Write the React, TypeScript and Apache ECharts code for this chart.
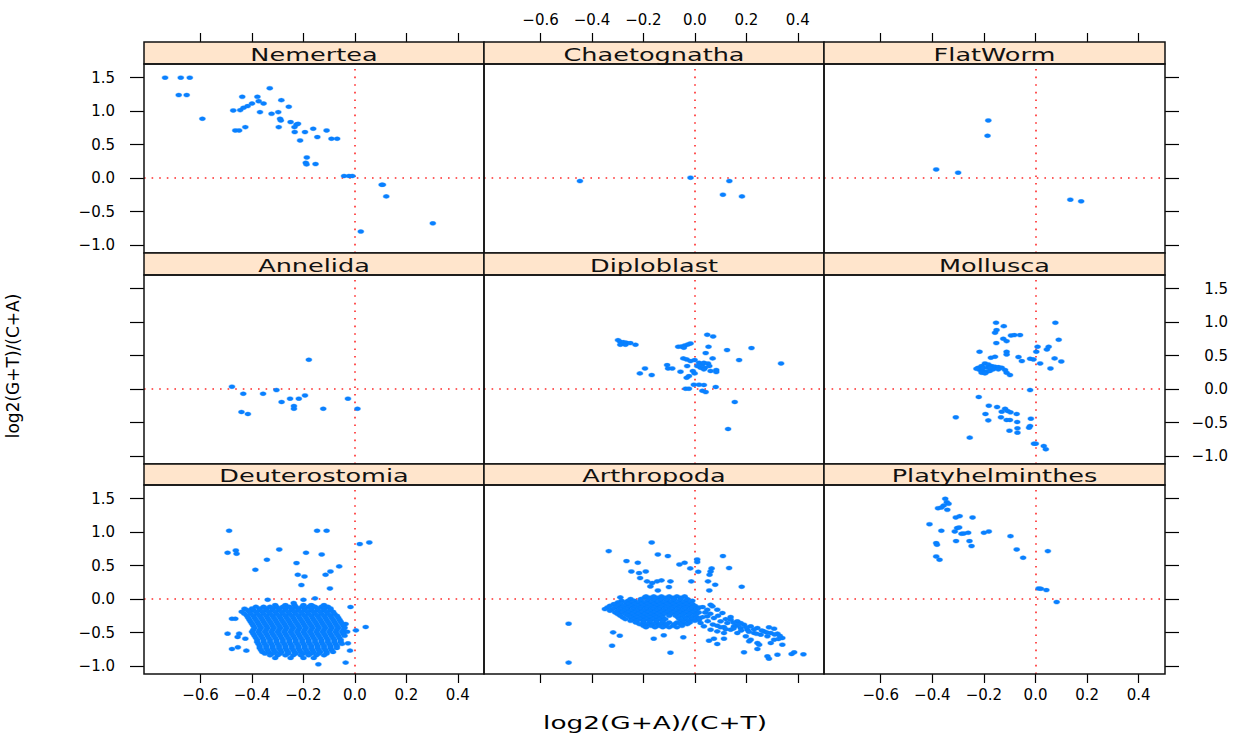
import React, { useEffect, useRef } from "react";
import * as echarts from "echarts";

const panelNames = [
  "Nemertea", "Chaetognatha", "FlatWorm",
  "Annelida", "Diploblast", "Mollusca",
  "Deuterostomia", "Arthropoda", "Platyhelminthes",
];
const xTicks = [-0.6, -0.4, -0.2, 0, 0.2, 0.4];
const yTicks = [-1, -0.5, 0, 0.5, 1, 1.5];
const xTitle = "log2(G+A)/(C+T)";
const yTitle = "log2(G+T)/(C+A)";

const nemertea = [
  [-0.738, 1.5], [-0.677, 1.5], [-0.642, 1.5], [-0.685, 1.24], [-0.654, 1.24], [-0.593, 0.886],
  [-0.438, 1.214], [-0.379, 1.214], [-0.331, 1.343], [-0.286, 1.164], [-0.257, 1.065], [-0.473, 1.01],
  [-0.446, 1.015], [-0.433, 1.05], [-0.417, 1.075], [-0.4, 1.114], [-0.374, 1.149], [-0.355, 1.114],
  [-0.369, 0.985], [-0.324, 0.96], [-0.298, 0.985], [-0.291, 0.886], [-0.288, 0.861], [-0.25, 0.836],
  [-0.227, 0.8], [-0.221, 0.81], [-0.235, 0.761], [-0.296, 0.761], [-0.465, 0.711], [-0.45, 0.711],
  [-0.426, 0.761], [-0.234, 0.687], [-0.194, 0.687], [-0.162, 0.736], [-0.11, 0.711], [-0.146, 0.612],
  [-0.213, 0.562], [-0.091, 0.587], [-0.069, 0.587], [-0.187, 0.308], [-0.191, 0.229], [-0.188, 0.204],
  [-0.153, 0.209], [-0.042, 0.03], [-0.023, 0.03], [-0.01, 0.03], [0.104, -0.1], [0.109, -0.1],
  [0.122, -0.274], [0.303, -0.677], [0.023, -0.8],
];
const chaetognatha = [
  [-0.447, -0.045], [-0.017, 0.005], [0.134, -0.045], [0.109, -0.249], [0.183, -0.274],
];
const flatWorm = [
  [-0.385, 0.129], [-0.3, 0.08], [-0.183, 0.861], [-0.186, 0.632], [0.135, -0.323], [0.177, -0.348],
];
const annelida = [
  [-0.478, 0.035], [-0.434, -0.07], [-0.357, -0.07], [-0.305, -0.015], [-0.179, 0.438], [-0.285, -0.194],
  [-0.252, -0.144], [-0.218, -0.144], [-0.194, -0.095], [-0.237, -0.254], [-0.237, -0.294], [-0.123, -0.294],
  [-0.027, -0.144], [0.01, -0.294], [-0.441, -0.343], [-0.416, -0.373],
];
const diploblast = [
  [-0.299, 0.731], [-0.29, 0.706], [-0.277, 0.701], [-0.266, 0.692], [-0.251, 0.687], [-0.231, 0.662],
  [-0.29, 0.662], [-0.27, 0.662], [-0.194, 0.308], [-0.214, 0.234], [-0.168, 0.209], [-0.108, 0.358],
  [-0.104, 0.308], [-0.088, 0.308], [-0.056, 0.259], [-0.065, 0.632], [-0.052, 0.637], [-0.039, 0.652],
  [-0.027, 0.667], [-0.017, 0.682], [-0.043, 0.617], [0.048, 0.811], [0.071, 0.786], [0.053, 0.632],
  [0.042, 0.537], [0.125, 0.582], [0.22, 0.612], [0.172, 0.433], [0.335, 0.383], [-0.045, 0.458],
  [-0.032, 0.443], [-0.017, 0.418], [-0.001, 0.433], [0.016, 0.393], [0.029, 0.368], [0.035, 0.393],
  [0.051, 0.383], [0.039, 0.318], [0.022, 0.318], [0.009, 0.343], [0.069, 0.458], [0.056, 0.343],
  [-0.03, 0.343], [-0.008, 0.269], [0.035, 0.294], [0.061, 0.269], [0.083, 0.284], [0.083, 0.254],
  [-0.001, 0.234], [-0.023, 0.194], [-0.032, 0.169], [-0.004, 0.065], [0.016, 0.065], [0.035, 0.06],
  [-0.036, 0.005], [-0.023, 0.005], [0.029, -0.025], [0.042, -0.045], [0.081, 0.03], [0.155, -0.194],
  [0.129, -0.597],
];
const mollusca = [
  [-0.153, 0.99], [-0.123, 0.94], [-0.151, 0.881], [-0.157, 0.841], [-0.125, 0.751], [-0.112, 0.716],
  [-0.152, 0.687], [-0.095, 0.801], [-0.082, 0.806], [-0.06, 0.806], [-0.217, 0.557], [-0.112, 0.557],
  [-0.112, 0.517], [-0.173, 0.468], [-0.157, 0.483], [-0.066, 0.478], [-0.053, 0.418], [-0.021, 0.453],
  [-0.008, 0.443], [0.018, 0.383], [0.008, 0.632], [0.003, 0.557], [0.044, 0.592], [0.051, 0.632],
  [0.077, 0.99], [0.09, 0.736], [0.074, 0.458], [0.1, 0.413], [0.058, 0.308],
  [-0.222, 0.318], [-0.209, 0.343], [-0.196, 0.383], [-0.183, 0.368], [-0.17, 0.343], [-0.157, 0.333],
  [-0.144, 0.328], [-0.216, 0.284], [-0.203, 0.269], [-0.19, 0.254], [-0.177, 0.269], [-0.164, 0.294],
  [-0.203, 0.318], [-0.186, 0.318], [-0.229, 0.303], [-0.209, 0.244], [-0.196, 0.234], [-0.177, 0.318],
  [-0.118, 0.284], [-0.112, 0.244], [-0.099, 0.209], [-0.131, 0.318], [-0.144, 0.294],
  [-0.021, -0.015], [-0.22, -0.119], [-0.181, -0.249], [-0.149, -0.269], [-0.118, -0.294], [-0.108, -0.328],
  [-0.131, -0.338], [-0.073, -0.373], [-0.097, -0.348], [-0.194, -0.373], [-0.309, -0.423], [-0.134, -0.423],
  [-0.112, -0.463], [-0.099, -0.463], [-0.183, -0.468], [-0.071, -0.493], [-0.018, -0.443], [-0.021, -0.552],
  [-0.025, -0.577], [-0.07, -0.587], [-0.07, -0.652], [-0.101, -0.622], [-0.255, -0.726], [-0.006, -0.816],
  [0.001, -0.816], [0.032, -0.851], [0.04, -0.9],
];
const deuterostomiaScatter = [
  [-0.489, 1.02], [-0.147, 1.02], [-0.11, 1.02], [0.019, 0.821], [0.056, 0.846], [-0.495, 0.692],
  [-0.463, 0.726], [-0.46, 0.677], [-0.294, 0.741], [-0.19, 0.692], [-0.129, 0.667], [-0.342, 0.587],
  [-0.227, 0.537], [-0.387, 0.438], [-0.061, 0.488], [-0.095, 0.413], [-0.114, 0.363], [-0.222, 0.363],
  [-0.196, 0.338], [-0.208, 0.209], [-0.097, 0.159], [-0.339, -0.01], [-0.2, -0.01], [-0.155, 0.01],
  [-0.017, -0.119], [0.042, -0.418], [0.004, -0.468], [-0.036, -0.95], [-0.142, -0.975], [-0.478, -0.294],
  [-0.465, -0.294], [-0.495, -0.517], [-0.45, -0.517], [-0.456, -0.567], [-0.426, -0.592], [-0.478, -0.746],
  [-0.455, -0.721], [-0.422, -0.771], [-0.429, -0.144], [-0.036, -0.373], [-0.027, -0.662], [-0.019, -0.771],
  [-0.238, -0.06], [-0.166, -0.1],
];
const deuterostomiaRowY = [
  -0.09, -0.115, -0.14, -0.165, -0.19, -0.22, -0.25, -0.28, -0.31, -0.34, -0.37, -0.4, -0.43, -0.46,
  -0.49, -0.52, -0.55, -0.58, -0.61, -0.64, -0.67, -0.7, -0.73, -0.76, -0.79, -0.815, -0.84, -0.88,
];
const deuterostomiaRowX = [
  [-0.31, -0.27, -0.235, -0.2, -0.17, -0.12],
  [-0.385, -0.355, -0.33, -0.305, -0.28, -0.255, -0.23, -0.205, -0.18, -0.155, -0.13, -0.105],
  [-0.4, -0.37, -0.345, -0.32, -0.295, -0.27, -0.245, -0.22, -0.195, -0.17, -0.145, -0.12, -0.095],
  [-0.42, -0.395, -0.37, -0.345, -0.32, -0.295, -0.27, -0.245, -0.22, -0.195, -0.17, -0.145, -0.12, -0.095],
  [-0.44, -0.41, -0.385, -0.36, -0.335, -0.31, -0.285, -0.26, -0.235, -0.21, -0.185, -0.16, -0.135, -0.11, -0.085],
  [-0.43, -0.405, -0.38, -0.355, -0.33, -0.305, -0.28, -0.255, -0.23, -0.205, -0.18, -0.155, -0.13, -0.105, -0.08],
  [-0.42, -0.395, -0.37, -0.345, -0.32, -0.295, -0.27, -0.245, -0.22, -0.195, -0.17, -0.145, -0.12, -0.095, -0.07],
  [-0.415, -0.39, -0.365, -0.34, -0.315, -0.29, -0.265, -0.24, -0.215, -0.19, -0.165, -0.14, -0.115, -0.09, -0.065],
  [-0.41, -0.385, -0.36, -0.335, -0.31, -0.285, -0.26, -0.235, -0.21, -0.185, -0.16, -0.135, -0.11, -0.085, -0.06],
  [-0.405, -0.38, -0.355, -0.33, -0.305, -0.28, -0.255, -0.23, -0.205, -0.18, -0.155, -0.13, -0.105, -0.08, -0.055],
  [-0.4, -0.375, -0.35, -0.325, -0.3, -0.275, -0.25, -0.225, -0.2, -0.175, -0.15, -0.125, -0.1, -0.075, -0.05],
  [-0.395, -0.37, -0.345, -0.32, -0.295, -0.27, -0.245, -0.22, -0.195, -0.17, -0.145, -0.12, -0.095, -0.07, -0.045],
  [-0.39, -0.365, -0.34, -0.315, -0.29, -0.265, -0.24, -0.215, -0.19, -0.165, -0.14, -0.115, -0.09, -0.065, -0.04],
  [-0.395, -0.37, -0.345, -0.32, -0.295, -0.27, -0.245, -0.22, -0.195, -0.17, -0.145, -0.12, -0.095, -0.07, -0.045],
  [-0.4, -0.375, -0.35, -0.325, -0.3, -0.275, -0.25, -0.225, -0.2, -0.175, -0.15, -0.125, -0.1, -0.075, -0.05, -0.03],
  [-0.395, -0.37, -0.345, -0.32, -0.295, -0.27, -0.245, -0.22, -0.195, -0.17, -0.145, -0.12, -0.095, -0.07, -0.045],
  [-0.39, -0.365, -0.34, -0.315, -0.29, -0.265, -0.24, -0.215, -0.19, -0.165, -0.14, -0.115, -0.09, -0.065, -0.04],
  [-0.385, -0.36, -0.335, -0.31, -0.285, -0.26, -0.235, -0.21, -0.185, -0.16, -0.135, -0.11, -0.085, -0.06],
  [-0.38, -0.355, -0.33, -0.305, -0.28, -0.255, -0.23, -0.205, -0.18, -0.155, -0.13, -0.105, -0.08, -0.055],
  [-0.38, -0.355, -0.33, -0.305, -0.28, -0.255, -0.23, -0.205, -0.18, -0.155, -0.13, -0.105, -0.08, -0.055],
  [-0.375, -0.35, -0.325, -0.3, -0.275, -0.25, -0.225, -0.2, -0.175, -0.15, -0.125, -0.1, -0.075, -0.05],
  [-0.37, -0.345, -0.32, -0.295, -0.27, -0.245, -0.22, -0.195, -0.17, -0.145, -0.12, -0.095, -0.07],
  [-0.37, -0.345, -0.32, -0.295, -0.27, -0.245, -0.22, -0.195, -0.17, -0.145, -0.12, -0.095, -0.07],
  [-0.365, -0.34, -0.315, -0.29, -0.265, -0.24, -0.215, -0.19, -0.165, -0.14, -0.115, -0.09],
  [-0.36, -0.335, -0.31, -0.285, -0.26, -0.235, -0.21, -0.185, -0.16, -0.135, -0.11, -0.085],
  [-0.35, -0.32, -0.29, -0.26, -0.23, -0.2, -0.17, -0.14, -0.11],
  [-0.33, -0.3, -0.27, -0.24, -0.21, -0.18, -0.15, -0.12],
  [-0.31, -0.25, -0.2, -0.16],
];
const arthropodaScatter = [
  [-0.168, 0.846], [-0.335, 0.716], [-0.144, 0.667], [-0.105, 0.642], [0.109, 0.642], [-0.266, 0.567],
  [-0.222, 0.542], [-0.06, 0.517], [-0.04, 0.542], [0.009, 0.592], [0.009, 0.552], [-0.018, 0.458],
  [0.013, 0.408], [0.133, 0.463], [0.065, 0.458], [0.061, 0.413], [0.057, 0.363], [-0.247, 0.413],
  [-0.217, 0.388], [-0.191, 0.413], [-0.213, 0.313], [-0.186, 0.264], [-0.166, 0.239], [-0.147, 0.264],
  [-0.13, 0.279], [-0.095, 0.264], [-0.014, 0.264], [0.051, 0.264], [0.079, 0.214], [0.056, 0.129],
  [-0.173, 0.189], [-0.144, 0.129], [-0.101, 0.179], [0.182, 0.184], [-0.29, 0.025], [-0.195, 0.025],
  [-0.491, -0.368], [-0.491, -0.95], [-0.318, -0.498], [-0.292, -0.547], [-0.322, -0.697], [-0.095, -0.801],
  [-0.16, -0.592], [-0.121, -0.542], [-0.045, -0.572],
  [0.061, -0.085], [0.087, -0.159], [0.107, -0.209], [0.139, -0.269], [0.165, -0.333], [0.191, -0.383],
  [0.217, -0.408], [0.243, -0.433], [0.269, -0.483], [0.295, -0.507], [0.321, -0.517], [0.34, -0.582],
  [0.308, -0.607], [0.282, -0.557], [0.256, -0.532], [0.23, -0.507], [0.204, -0.458], [0.178, -0.433],
  [0.152, -0.408], [0.126, -0.358], [0.1, -0.333], [0.074, -0.284], [0.048, -0.259], [0.035, -0.408],
  [0.061, -0.458], [0.087, -0.483], [0.113, -0.507], [0.139, -0.458], [0.165, -0.507], [0.198, -0.557],
  [0.217, -0.607], [0.243, -0.657], [0.211, -0.632], [0.055, -0.622], [0.087, -0.672], [0.113, -0.592],
  [0.074, -0.592], [0.288, -0.891], [0.282, -0.856], [0.321, -0.831], [0.376, -0.821], [0.386, -0.796],
  [0.422, -0.826], [0.191, -0.796], [0.243, -0.746], [0.25, -0.682], [0.295, -0.657], [0.34, -0.682],
  [0.325, -0.597], [0.308, -0.443], [0.288, -0.423], [0.048, -0.159], [0.068, -0.109], [0.161, -0.398],
  [0.016, -0.308], [0.022, -0.358], [0.087, -0.398], [0.113, -0.418], [0.139, -0.308], [0.178, -0.358],
  [0.03, -0.12], [0.04, -0.2], [0.06, -0.22], [0.09, -0.25], [0.12, -0.3], [0.15, -0.35],
  [0.17, -0.38], [0.2, -0.42], [0.23, -0.45], [0.26, -0.47], [0.28, -0.5], [0.31, -0.53],
  [0.33, -0.55], [0.24, -0.52], [0.21, -0.49], [0.18, -0.47], [0.15, -0.44], [0.12, -0.45],
  [0.1, -0.42], [0.07, -0.38], [0.05, -0.33], [0.03, -0.27],
];
const arthropodaRowY = [
  0.04, 0.02, 0.0, -0.025, -0.05, -0.075, -0.1, -0.125, -0.15, -0.175,
  -0.2, -0.225, -0.25, -0.275, -0.3, -0.325, -0.35, -0.375, -0.4, -0.42,
];
const arthropodaRowX = [
  [-0.19, -0.16, -0.13, -0.1, -0.07, -0.04],
  [-0.175, -0.145, -0.115, -0.085, -0.055],
  [-0.25, -0.21, -0.18, -0.155, -0.13, -0.105, -0.08, -0.055, -0.03],
  [-0.285, -0.26, -0.235, -0.21, -0.185, -0.16, -0.135, -0.11, -0.085, -0.06, -0.035, -0.01],
  [-0.3, -0.27, -0.245, -0.22, -0.195, -0.17, -0.145, -0.12, -0.095, -0.07, -0.045, -0.02],
  [-0.315, -0.29, -0.26, -0.235, -0.21, -0.185, -0.16, -0.135, -0.11, -0.085, -0.06, -0.035, -0.01],
  [-0.33, -0.3, -0.275, -0.25, -0.225, -0.2, -0.175, -0.15, -0.125, -0.1, -0.075, -0.05, -0.025, 0.0],
  [-0.34, -0.31, -0.285, -0.26, -0.235, -0.21, -0.185, -0.16, -0.135, -0.11, -0.085, -0.06, -0.035, -0.01, 0.015],
  [-0.35, -0.32, -0.29, -0.265, -0.24, -0.215, -0.19, -0.165, -0.14, -0.115, -0.09, -0.065, -0.04, -0.015, 0.01],
  [-0.33, -0.3, -0.275, -0.25, -0.225, -0.2, -0.175, -0.15, -0.125, -0.1, -0.075, -0.05, -0.025, 0.0],
  [-0.31, -0.285, -0.26, -0.235, -0.21, -0.185, -0.16, -0.135, -0.11, -0.085, -0.06, -0.035, -0.01, 0.015],
  [-0.3, -0.27, -0.245, -0.22, -0.195, -0.17, -0.145, -0.12, -0.095, -0.07, -0.045, -0.02, 0.005],
  [-0.29, -0.26, -0.235, -0.21, -0.185, -0.16, -0.135, -0.1, -0.075, -0.05, -0.025, 0.0],
  [-0.28, -0.25, -0.225, -0.2, -0.175, -0.15, -0.125, -0.065, -0.04, -0.015, 0.01],
  [-0.27, -0.24, -0.215, -0.19, -0.165, -0.14, -0.115, -0.06, -0.035, -0.01, 0.015],
  [-0.25, -0.225, -0.2, -0.175, -0.15, -0.125, -0.05, -0.025, 0.0],
  [-0.23, -0.2, -0.175, -0.15, -0.125, -0.1, -0.07, -0.045, -0.02],
  [-0.215, -0.185, -0.16, -0.135, -0.11, -0.08, -0.055, -0.03],
  [-0.2, -0.17, -0.14, -0.115, -0.085, -0.05],
  [-0.19, -0.155, -0.125, -0.1, -0.07],
];
const platyhelminthes = [
  [-0.35, 1.498], [-0.344, 1.448], [-0.337, 1.423], [-0.356, 1.398], [-0.378, 1.358], [-0.365, 1.368],
  [-0.342, 1.333], [-0.411, 1.119], [-0.365, 1.02], [-0.309, 1.219], [-0.294, 1.239], [-0.244, 1.219],
  [-0.304, 1.06], [-0.296, 1.07], [-0.313, 1.01], [-0.287, 0.975], [-0.278, 0.98], [-0.261, 0.99],
  [-0.2, 0.99], [-0.181, 1.01], [-0.385, 0.836], [-0.382, 0.811], [-0.308, 0.866], [-0.256, 0.866],
  [-0.248, 0.791], [-0.097, 0.94], [-0.073, 0.741], [-0.048, 0.617], [0.048, 0.716], [-0.385, 0.637],
  [-0.372, 0.587], [0.012, 0.159], [0.021, 0.154], [0.042, 0.134], [0.082, -0.045],
];

const expandRows = (ys: number[], xs: number[][]) =>
  ys.flatMap((y, i) => xs[i].map((x) => [x, y]));

const panelData = [
  nemertea, chaetognatha, flatWorm,
  annelida, diploblast, mollusca,
  deuterostomiaScatter.concat(expandRows(deuterostomiaRowY, deuterostomiaRowX)),
  arthropodaScatter.concat(expandRows(arthropodaRowY, arthropodaRowX)),
  platyhelminthes,
];

const X_MIN = -0.82, X_MAX = 0.502, Y_MIN = -1.12, Y_MAX = 1.704;
const colLeft = [144, 484, 824];
const colWidth = [340, 340, 341];
const panelTop = [64, 275, 485];
const panelH = 189;
const stripTop = [42, 253, 464];
const FONT = "DejaVu Sans";

const fmt = (v: number) => (v < -1e-9 ? "\u2212" : "") + Math.abs(v).toFixed(1);

export default function App() {
  const ref = useRef<HTMLDivElement>(null);
  useEffect(() => {
    if (!ref.current) return;
    const chart = echarts.init(ref.current, undefined, { renderer: "svg" });
    const grids: any[] = [];
    const xAxes: any[] = [];
    const yAxes: any[] = [];
    const series: any[] = [];
    const graphics: any[] = [];
    const labelStyle = { fontFamily: FONT, fontSize: 15, color: "#000" };
    const tickLine = { color: "#000", width: 1.2 };
    const noLine = { show: false, onZero: false };
    for (let r = 0; r < 3; r++) {
      for (let c = 0; c < 3; c++) {
        const i = r * 3 + c;
        grids.push({ left: colLeft[c], top: panelTop[r], width: colWidth[c], height: panelH });
        const xi = xAxes.length;
        xAxes.push({
          gridIndex: i, type: "value", min: X_MIN, max: X_MAX, position: "bottom",
          axisLine: noLine, splitLine: { show: false },
          axisTick: { show: r === 2, length: 9, lineStyle: tickLine, customValues: xTicks },
          axisLabel: { show: r === 2 && c !== 1, margin: 13, formatter: fmt, customValues: xTicks, ...labelStyle },
        });
        if (r === 0) {
          xAxes.push({
            gridIndex: i, type: "value", min: X_MIN, max: X_MAX, position: "top", offset: 22,
            axisLine: noLine, splitLine: { show: false },
            axisTick: { show: true, length: 9, lineStyle: tickLine, customValues: xTicks },
            axisLabel: { show: c === 1, margin: 15, formatter: fmt, customValues: xTicks, ...labelStyle },
          });
        }
        const yi = yAxes.length;
        yAxes.push({
          gridIndex: i, type: "value", min: Y_MIN, max: Y_MAX, position: c === 2 ? "right" : "left",
          axisLine: noLine, splitLine: { show: false },
          axisTick: { show: c !== 1, length: 14, lineStyle: tickLine, customValues: yTicks },
          axisLabel: {
            show: (c === 0 && r !== 1) || (c === 2 && r === 1),
            margin: c === 2 ? 63 : 29, align: "right",
            formatter: fmt, customValues: yTicks, ...labelStyle,
          },
        });
        series.push({
          type: "scatter", xAxisIndex: xi, yAxisIndex: yi, data: panelData[i],
          symbol: "circle", symbolSize: [6, 4], silent: true,
          itemStyle: { color: "#0a80ff", borderColor: "rgba(0,128,255,0.4)", borderWidth: 1, opacity: 1 },
          markLine: {
            silent: true, symbol: "none", label: { show: false }, z: 1,
            lineStyle: { color: "#ff2a2a", type: [1.6, 6], width: 1.6 },
            data: [{ xAxis: 0 }, { yAxis: 0 }],
          },
        });
        const L = colLeft[c], W = colWidth[c];
        const sh = panelTop[r] - stripTop[r];
        graphics.push({
          type: "rect", z: 20,
          shape: { x: L, y: stripTop[r], width: W, height: sh },
          style: { fill: "#ffe5cc", stroke: "#111", lineWidth: 1.5 },
        });
        graphics.push({
          type: "text", z: 21, x: L + W / 2, y: stripTop[r] + sh / 2 + 1, scaleX: 1.42,
          style: {
            text: panelNames[i], fontFamily: FONT, fontSize: 18, fill: "#111",
            textAlign: "center", textVerticalAlign: "middle",
          },
        });
        graphics.push({
          type: "rect", z: 20,
          shape: { x: L, y: panelTop[r], width: W, height: panelH },
          style: { fill: "none", stroke: "#111", lineWidth: 1.5 },
        });
      }
    }
    graphics.push({
      type: "text", z: 21, x: 655, y: 723, scaleX: 1.55,
      style: { text: xTitle, fontFamily: FONT, fontSize: 17, fill: "#000", textAlign: "center", textVerticalAlign: "middle" },
    });
    graphics.push({
      type: "text", z: 21, x: 13, y: 366, rotation: Math.PI / 2,
      style: { text: yTitle, fontFamily: FONT, fontSize: 17, fill: "#000", textAlign: "center", textVerticalAlign: "middle" },
    });
    chart.setOption({
      animation: false,
      backgroundColor: "#ffffff",
      textStyle: { fontFamily: FONT },
      grid: grids,
      xAxis: xAxes,
      yAxis: yAxes,
      series,
      graphic: graphics,
    });
    return () => chart.dispose();
  }, []);
  return (
    <div
      ref={ref}
      style={{ position: "fixed", left: 0, top: 0, width: 1246, height: 738 }}
    />
  );
}
